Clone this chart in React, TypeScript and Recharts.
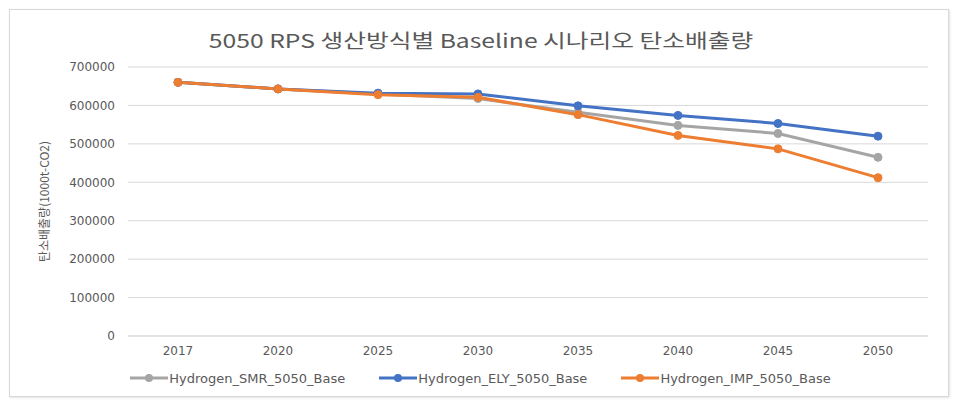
import React from 'react';
import { LineChart, Line, XAxis, YAxis, CartesianGrid, Label } from 'recharts';

// years on the category axis
const years = ['2017', '2020', '2025', '2030', '2035', '2040', '2045', '2050'];

// 탄소배출량 (1000t-CO2)
const smrBase = [660000, 643000, 630000, 618000, 582000, 548000, 527000, 465000];
const elyBase = [660000, 643000, 632000, 630000, 599000, 574000, 553000, 520000];
const impBase = [660000, 643000, 628000, 621000, 576000, 522000, 487000, 412000];

const yTicks = [0, 100000, 200000, 300000, 400000, 500000, 600000, 700000];

const seriesInfo = [
    { key: 'smr', name: 'Hydrogen_SMR_5050_Base', color: '#A5A5A5' },
    { key: 'ely', name: 'Hydrogen_ELY_5050_Base', color: '#4472C4' },
    { key: 'imp', name: 'Hydrogen_IMP_5050_Base', color: '#ED7D31' },
];

const data = years.map((year, i) => ({
    year,
    smr: smrBase[i],
    ely: elyBase[i],
    imp: impBase[i],
}));

const textColor = '#595959';
const tickFont = '"DejaVu Sans", "Noto Sans CJK KR", sans-serif';

export default function App() {
    return (
        <div style={{ position: 'absolute', left: 0, top: 0, width: 961, height: 406, background: '#fff' }}>
            {/* chart frame */}
            <div
                style={{
                    position: 'absolute',
                    left: 9,
                    top: 9,
                    width: 938,
                    height: 386,
                    border: '1px solid #D9D9D9',
                    boxShadow: '1px 1px 2px #E4E4E4',
                }}
            />

            <div
                style={{
                    position: 'absolute',
                    left: 0,
                    top: 27,
                    width: 962,
                    textAlign: 'center',
                    fontFamily: '"Noto Sans CJK KR", sans-serif',
                    fontSize: 19,
                    color: textColor,
                    lineHeight: '26px',
                    transform: 'scaleX(1.3)',
                }}
            >
                5050 RPS 생산방식별 Baseline 시나리오 탄소배출량
            </div>

            <div style={{ position: 'absolute', left: 0, top: 0 }}>
                <LineChart
                    width={961}
                    height={406}
                    data={data}
                    margin={{ top: 67, right: 33, bottom: 40, left: 68 }}
                >
                    <CartesianGrid vertical={false} stroke="#D9D9D9" strokeWidth={1} />
                    <XAxis
                        dataKey="year"
                        height={30}
                        padding={{ left: 50, right: 50 }}
                        axisLine={{ stroke: '#D9D9D9' }}
                        tickLine={false}
                        tickMargin={4}
                        tick={{ fill: textColor, fontSize: 12, fontFamily: tickFont }}
                    />
                    <YAxis
                        width={60}
                        domain={[0, 700000]}
                        ticks={yTicks}
                        axisLine={false}
                        tickLine={false}
                        tickMargin={7}
                        tick={{ fill: textColor, fontSize: 12, fontFamily: tickFont }}
                    >
                        <Label
                            value="탄소배출량(1000t-CO2)"
                            angle={-90}
                            position="insideLeft"
                            offset={-23}
                            style={{ fill: textColor, fontSize: 12, fontFamily: '"Noto Sans CJK KR", sans-serif', textAnchor: 'middle' }}
                        />
                    </YAxis>
                    {seriesInfo.map((s) => (
                        <Line
                            key={s.key}
                            type="linear"
                            dataKey={s.key}
                            name={s.name}
                            stroke={s.color}
                            strokeWidth={3}
                            dot={{ r: 4, fill: s.color, stroke: s.color, strokeWidth: 1 }}
                            isAnimationActive={false}
                        />
                    ))}
                </LineChart>
            </div>

            {/* legend */}
            <div
                style={{
                    position: 'absolute',
                    left: 0,
                    top: 369,
                    width: 961,
                    display: 'flex',
                    justifyContent: 'center',
                    gap: 34,
                    fontFamily: tickFont,
                    fontSize: 13,
                    color: textColor,
                }}
            >
                {seriesInfo.map((s) => (
                    <div key={s.key} style={{ display: 'flex', alignItems: 'center', height: 18 }}>
                        <svg width={38} height={10} style={{ marginRight: 1 }}>
                            <line x1={0} y1={5} x2={38} y2={5} stroke={s.color} strokeWidth={3} />
                            <circle cx={19} cy={5} r={4} fill={s.color} />
                        </svg>
                        <span>{s.name}</span>
                    </div>
                ))}
            </div>
        </div>
    );
}
